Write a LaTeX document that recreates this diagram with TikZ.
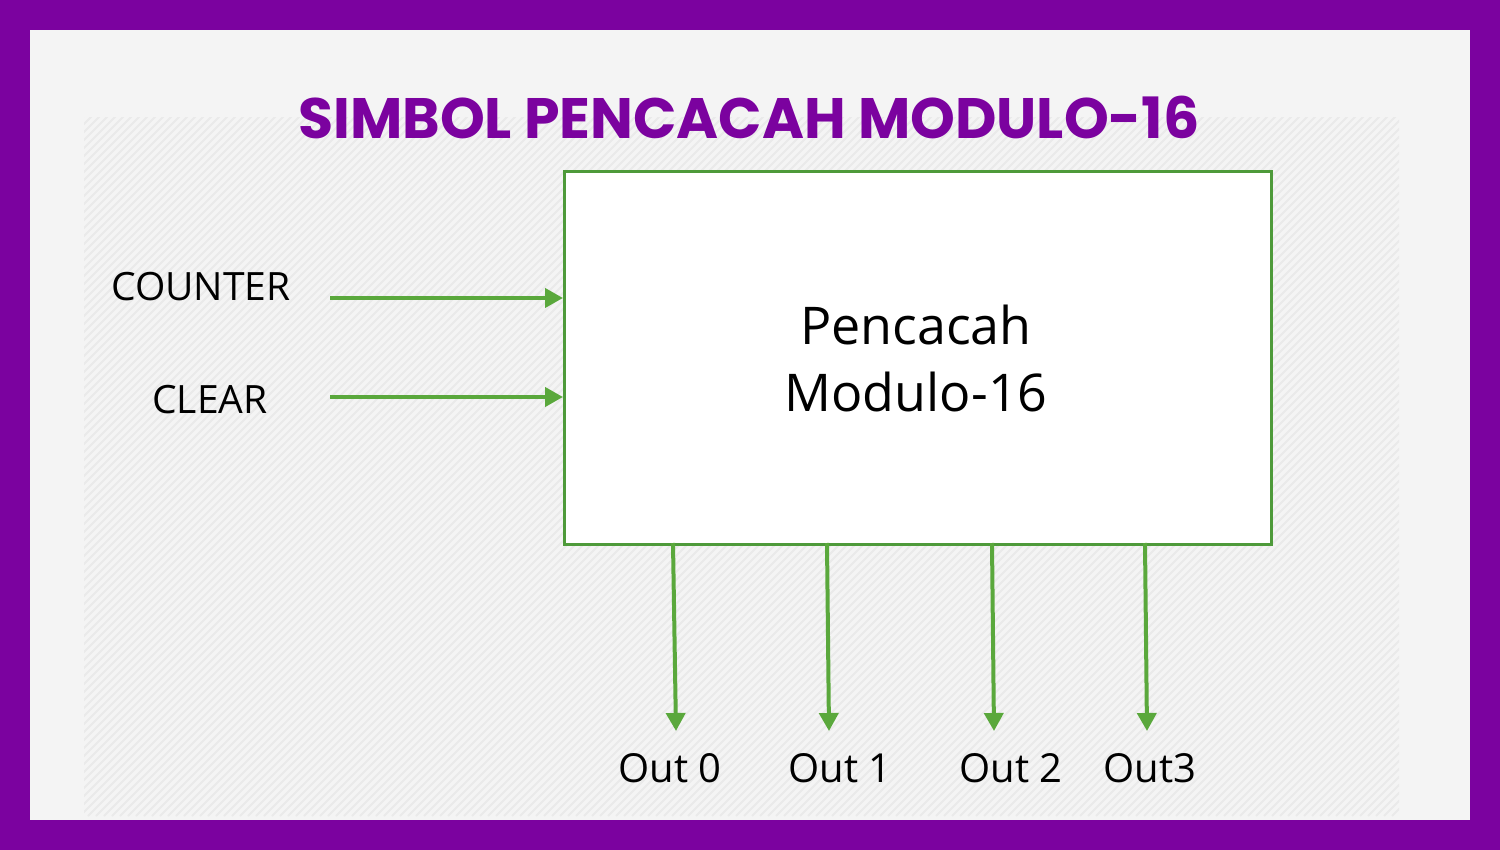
\documentclass[tikz,border=0pt]{standalone}
\usepackage{fontspec}
\setmainfont{Open Sans}
\newfontfamily\titlefont{Poppins}
\usetikzlibrary{arrows.meta}
\definecolor{frame}{HTML}{7B029F}
\definecolor{bgin}{HTML}{F4F4F4}
\definecolor{hatch}{HTML}{EAEAEA}
\definecolor{boxgreen}{HTML}{4E9A3A}
\definecolor{arrgreen}{HTML}{5AA83C}
\tikzset{
  lbl/.style={inner sep=0pt, font=\fontsize{39}{46}\selectfont, text=black},
  outlbl/.style={inner sep=0pt, font=\fontsize{40}{46}\selectfont, text=black},
  blockbox/.style={draw=boxgreen, line width=3pt, fill=white, inner sep=0pt},
  sig/.style={draw=arrgreen, line width=4pt, -{Triangle[length=18pt,width=19pt]}}
}
\begin{document}
\begin{tikzpicture}[x=1pt,y=-1pt]
\useasboundingbox (0,0) rectangle (1500,850);
\fill[frame] (0,0) rectangle (1500,850);
\fill[bgin] (30,30) rectangle (1470,820);
\begin{scope}
\clip (84,118) rectangle (1399,816);
\foreach \i in {0,8,...,2040} \draw[hatch, line width=2pt] ({\i-700+84},816) -- ++(700,-700);
\end{scope}
\node[inner sep=0pt, text=frame, font=\titlefont\bfseries\fontsize{57}{62}\selectfont] (title) at (749,117.5) {SIMBOL PENCACAH MODULO-16};
\node[blockbox, minimum width=707pt, minimum height=373pt, anchor=north west] (blk) at (563,170) {};
\node[inner sep=0pt, font=\fontsize{52}{67}\selectfont, align=center] (blktxt) at (916,358) {Pencacah\\Modulo-16};
\node[lbl] (counter) at (201,287) {COUNTER};
\node[lbl] (clear) at (210,400) {CLEAR};
\coordinate (ci) at (330,298);
\coordinate (cli) at (330,397);
\draw[sig] (ci) -- (ci -| blk.west);
\draw[sig] (cli) -- (cli -| blk.west);
\node[outlbl] (o0) at (670,768) {Out 0};
\node[outlbl] (o1) at (840,768) {Out 1};
\node[outlbl] (o2) at (1011,768) {Out 2};
\node[outlbl] (o3) at (1150,768) {Out3};
\coordinate (s0) at (673,543); \coordinate (e0) at (676,731);
\coordinate (s1) at (827,543); \coordinate (e1) at (829,731);
\coordinate (s2) at (992,543); \coordinate (e2) at (994,731);
\coordinate (s3) at (1145,543); \coordinate (e3) at (1147,731);
\draw[sig] (s0) -- (e0);
\draw[sig] (s1) -- (e1);
\draw[sig] (s2) -- (e2);
\draw[sig] (s3) -- (e3);
\end{tikzpicture}
\end{document}
